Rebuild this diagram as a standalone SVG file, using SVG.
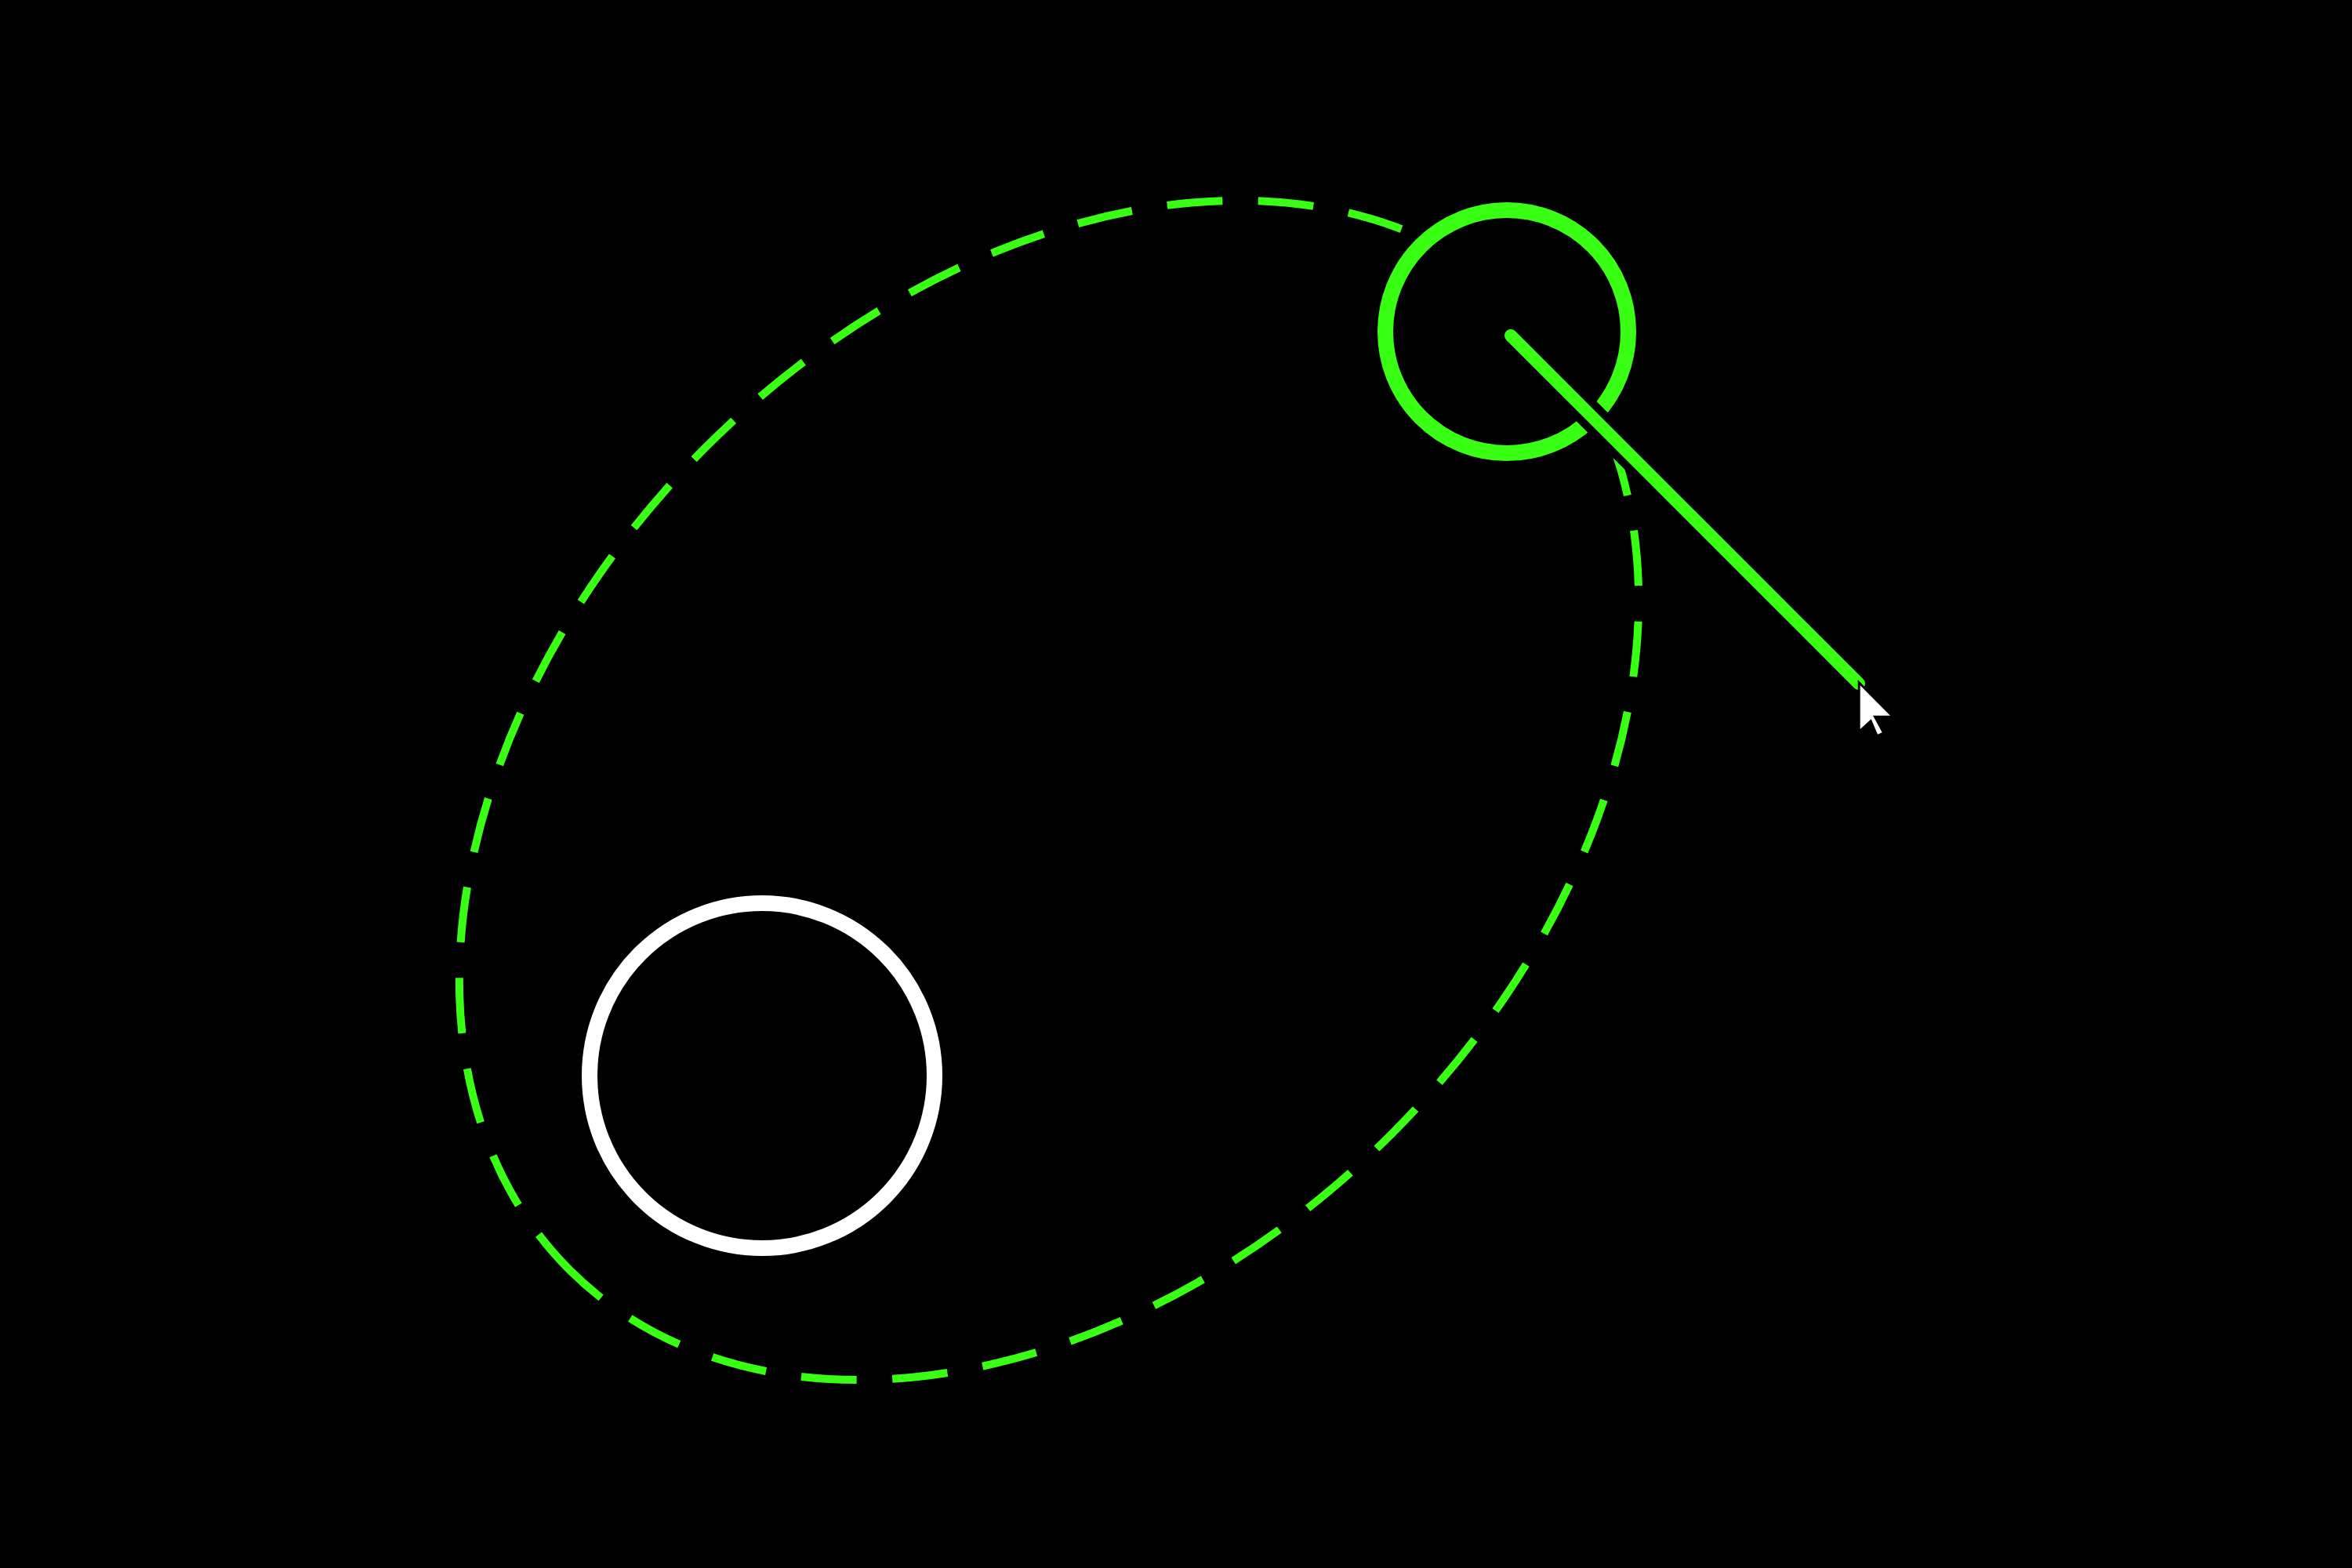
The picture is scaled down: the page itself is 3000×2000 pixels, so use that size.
<svg xmlns="http://www.w3.org/2000/svg" width="3000" height="2000" viewBox="0 0 3000 2000">
<style>
.g{fill:none;stroke:#39ff14}
</style>
<rect width="3000" height="2000" fill="#000"/>
<g id="orbit"><ellipse class="g" cx="1338" cy="1008" rx="865" ry="619" transform="rotate(135 1338 1008)" stroke-width="10" pathLength="4707" stroke-dashoffset="54" stroke-dasharray="114 45.6 71 45.6 71 45.6 71 45.6 71 45.6 71 45.6 71 45.6 71 45.6 71 45.6 71 45.6 71 45.6 71 45.6 71 45.6 71 45.6 71 45.6 71 45.6 71 45.6 71 45.6 71 45.6 71 45.6 71 45.6 71 45.6 71 45.6 71 45.6 71 45.6 71 45.6 71 45.6 71 45.6 71 45.6 71 45.6 71 45.6 71 45.6 71 45.6 71 45.6 71 45.6 71 45.6 71 45.6 71 45.6 71 45.6 71 45.6"/></g>
<g id="planet"><circle cx="972" cy="1372" r="220" fill="#000" stroke="#fff" stroke-width="20"/></g>
<g id="handle"><circle cx="1922" cy="423" r="155" fill="#000" stroke="#39ff14" stroke-width="20"/></g>
<g id="connectors">
<line x1="1960" y1="461" x2="2371" y2="872" stroke="#000" stroke-width="36"/>
<line class="g" x1="1927" y1="428" x2="2371" y2="872" stroke-width="16" stroke-linecap="round"/>
</g>
<g id="cursor"><polygon points="2372.7,874.3 2411,912.7 2389,912.7 2400.7,934.3 2395,936.7 2386.7,917.3 2372.7,930" fill="#fff" stroke="#000" stroke-width="6" paint-order="stroke"/></g>
</svg>
